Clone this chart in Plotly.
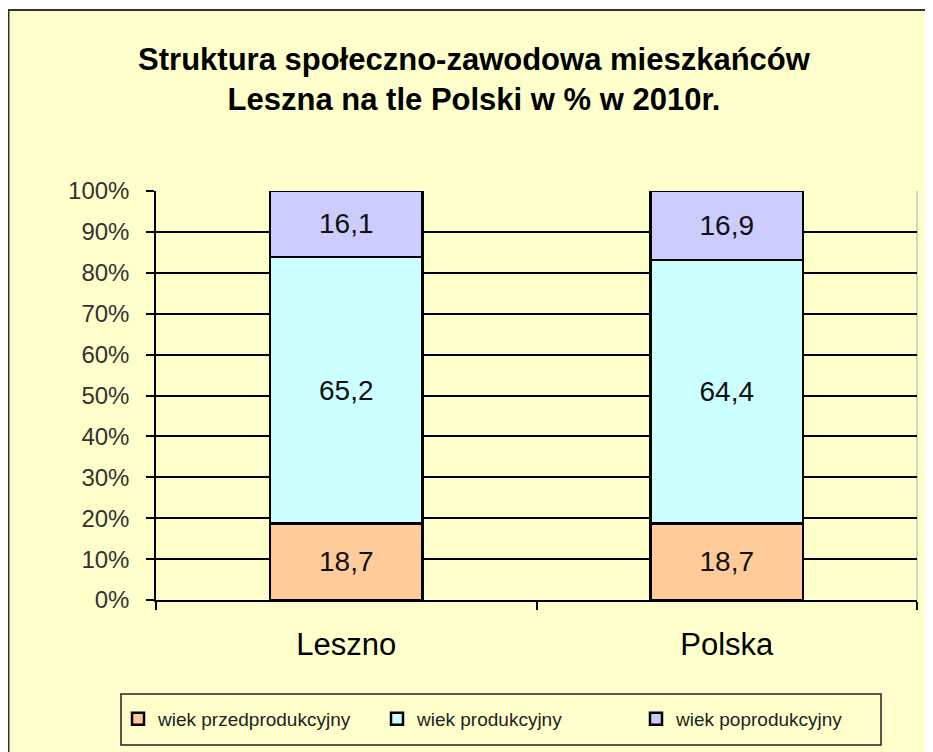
import plotly.graph_objects as go

title_text = "Struktura społeczno-zawodowa mieszkańców<br>Leszna na tle Polski w % w 2010r."
categories = ["Leszno", "Polska"]
series_names = ["wiek przedprodukcyjny", "wiek produkcyjny", "wiek poprodukcyjny"]
przed = [18.7, 18.7]
prod = [65.2, 64.4]
poprod = [16.1, 16.9]
series_values = [przed, prod, poprod]
series_colors = ["#FFCC99", "#CCFFFF", "#CCCCFF"]
y_ticks = [0, 10, 20, 30, 40, 50, 60, 70, 80, 90, 100]
y_ticktext = [f"{v}%" for v in y_ticks]

FONT = "Liberation Sans, Arial, sans-serif"
BG = "#FFFFCC"

# page body has an 8px margin; figure coordinates below are relative to the figure
W, H = 925, 744
L, R, T, B = 148, 16, 183, 152
pw, ph = W - L - R, H - T - B

fig = go.Figure()
for name, vals, col in zip(series_names, series_values, series_colors):
    fig.add_trace(go.Bar(
        x=categories, y=vals, name=name,
        marker=dict(color=col, line=dict(color="#000000", width=2.5)),
        texttemplate="%{y:.1f}", textposition="inside",
        insidetextanchor="middle",
        textfont=dict(family=FONT, size=28, color="#111111"),
        width=0.4,
    ))

def px_x(x):
    return (x - L) / pw

def px_y(y):
    return (H - B - y) / ph

shapes = [
    # outer chart frame (yellow area with dark border)
    dict(type="rect", xref="paper", yref="paper", layer="below",
         x0=px_x(0.5), x1=px_x(960), y0=px_y(2), y1=px_y(780),
         fillcolor=BG, line=dict(color="#333333", width=2)),
    # right plot-area border (light)
    dict(type="line", xref="paper", yref="paper", layer="below",
         x0=1, x1=1, y0=0, y1=1, line=dict(color="#AAAAAA", width=1)),
    # legend frame
    dict(type="rect", xref="paper", yref="paper", layer="below",
         x0=px_x(113), x1=px_x(873), y0=px_y(686), y1=px_y(737),
         line=dict(color="#222222", width=1.5)),
]

fig.update_layout(
    width=W, height=H,
    margin=dict(l=L, r=R, t=T, b=B, pad=0),
    paper_bgcolor="#FFFFFF",
    plot_bgcolor="rgba(0,0,0,0)",
    separators=", ",
    barmode="stack",
    showlegend=True,
    shapes=shapes,
    title=dict(
        text=title_text,
        font=dict(family=FONT, size=31, color="#000000", weight="bold"),
        x=466 / W, xanchor="center", xref="container",
        y=1 - 62 / H, yanchor="middle", yref="container",
    ),
    xaxis=dict(
        type="category",
        range=[-0.5, 1.5],
        showline=True, linecolor="#000000", linewidth=1.5,
        ticks="outside", tickson="boundaries", ticklen=8,
        tickcolor="#000000", tickwidth=1.5,
        tickfont=dict(family=FONT, size=31, color="#000000"),
        ticklabelstandoff=16,
        showgrid=False, zeroline=False,
    ),
    yaxis=dict(
        range=[0, 100],
        tickmode="array",
        tickvals=y_ticks,
        ticktext=y_ticktext,
        showline=True, linecolor="#000000", linewidth=1.5,
        ticks="outside", ticklen=8, tickcolor="#000000", tickwidth=1.5,
        tickfont=dict(family=FONT, size=24, color="#333333"),
        ticklabelstandoff=12,
        showgrid=True, gridcolor="#000000", gridwidth=1.5,
        zeroline=False,
    ),
    legend=dict(
        orientation="h",
        x=px_x(110), xanchor="left",
        y=px_y(711), yanchor="middle",
        bgcolor="rgba(0,0,0,0)",
        borderwidth=0,
        font=dict(family=FONT, size=19, color="#222222"),
        entrywidth=214, entrywidthmode="pixels",
        traceorder="normal",
        itemclick=False, itemdoubleclick=False,
    ),
)

fig.write_html("out.html")
